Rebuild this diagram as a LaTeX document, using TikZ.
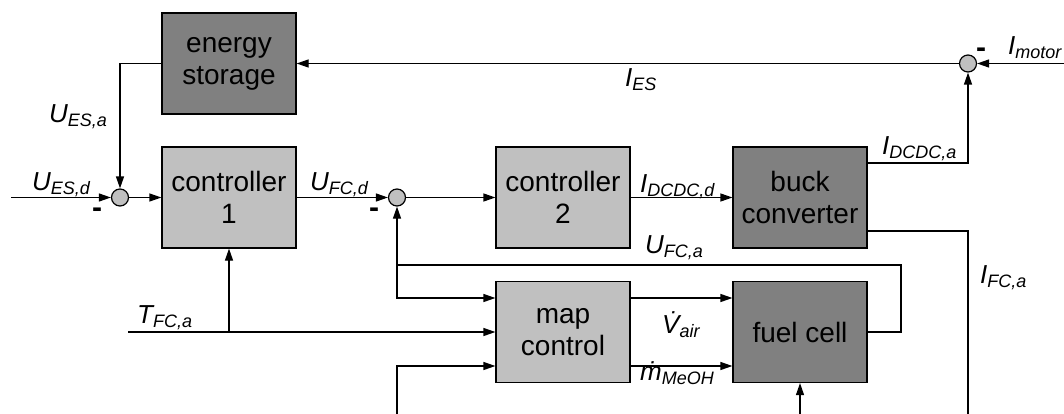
\documentclass[tikz,border=0pt]{standalone}
\usepackage{fontspec}
\setmainfont{Liberation Sans}
\usetikzlibrary{arrows.meta}
\definecolor{darkbox}{RGB}{128,128,128}
\definecolor{lightbox}{RGB}{192,192,192}
\newcommand{\sig}[2]{{\fontsize{26}{26}\selectfont\itshape #1\raisebox{-4pt}{\fontsize{18}{18}\selectfont #2}}}
\begin{document}
\begin{tikzpicture}[x=1pt,y=-1pt,
  box/.style={draw=black, line width=1.2pt, minimum width=134pt, minimum height=101pt, inner sep=0pt, align=center, font=\fontsize{28}{32}\selectfont},
  plant/.style={box, fill=darkbox},
  ctrl/.style={box, fill=lightbox},
  sumj/.style={circle, draw=black, line width=1.2pt, fill=lightbox, minimum size=17pt, inner sep=0pt},
  wire/.style={line width=1.2pt},
  arr/.style={wire, -{Triangle[length=12pt,width=8pt]}},
  lab/.style={anchor=base west, inner sep=0pt},
  minus/.style={inner sep=0pt, font=\fontsize{30}{30}\selectfont\bfseries}
]
\useasboundingbox (0,0) rectangle (1064,414);
% blocks
\node[plant] (es) at (229,63.5) {energy\\storage};
\node[ctrl] (c1) at (229,197.5) {controller\\1};
\node[ctrl] (c2) at (563,197.5) {controller\\2};
\node[plant] (buck) at (800,197.5) {buck\\converter};
\node[ctrl] (map) at (563,332) {map\\control};
\node[plant] (fc) at (800,332) {fuel cell};
% junctions
\node[sumj] (j1) at (120,197.5) {};
\node[sumj] (j2) at (397,197.5) {};
\node[sumj] (j3) at (968,63.5) {};
% free ends
\coordinate (in) at (11,197.5);
\coordinate (motin) at (1064,63.5);
\coordinate (ifcend) at (968,414);
\coordinate (fcr) at (901,332);
\coordinate (fb1) at (901,265);
\coordinate (fb2) at (397,265);
\coordinate (tin) at (128,332);
\coordinate (tbr) at (229,332);
\coordinate (bin) at (397,414);
\coordinate (fcin) at (800,414);
% connectors
\draw[arr] (in) -- (j1);
\draw[arr] (es) -| (j1);
\draw[arr] (j1) -- (c1);
\draw[arr] (c1) -- (j2);
\draw[arr] (j2) -- (c2);
\draw[arr] (c2) -- (buck);
\draw[arr] ([yshift=34.5pt]buck.east) -| (j3);
\draw[wire] ([yshift=-33.5pt]buck.east) -| (ifcend);
\draw[arr] (motin) -- (j3);
\draw[arr] (j3) -- (es);
\draw[wire] (fc.east) -- (fcr) -- (fb1) -- (fb2);
\draw[arr] (fb2) -- (j2);
\draw[arr] (fb2) |- ([yshift=34pt]map.west);
\draw[arr] (tin) -- (map.west);
\draw[arr] (tbr) -- (c1.south);
\draw[arr] (bin) |- ([yshift=-34pt]map.west);
\draw[arr] ([yshift=34pt]map.east) -- ([yshift=34pt]fc.west);
\draw[arr] ([yshift=-34pt]map.east) -- ([yshift=-34pt]fc.west);
\draw[arr] (fcin) -- (fc.south);
% labels
\node[lab] (lesa) at (49,123) {\sig{U}{ES,a}};
\node[lab] (lesd) at (32,190) {\sig{U}{ES,d}};
\node[lab] (lfcd) at (310,190) {\sig{U}{FC,d}};
\node[lab] (lidd) at (640,192) {\sig{I}{DCDC,d}};
\node[lab] (lfca) at (645,253) {\sig{U}{FC,a}};
\node[lab] (lies) at (625,87) {\sig{I}{ES}};
\node[lab] (lmot) at (1008,55) {\sig{I}{motor}};
\node[lab] (lida) at (882,155) {\sig{I}{DCDC,a}};
\node[lab] (lifc) at (980,283) {\sig{I}{FC,a}};
\node[lab] (ltfc) at (137,323) {\sig{T}{FC,a}};
\node[lab] (lvair) at (662,333) {\sig{\.{V}}{air}};
\node[lab] (lmeoh) at (640,380) {\sig{\.{m}}{MeOH}};
% minus signs
\node[minus] (m1) at (97,213) {-};
\node[minus] (m2) at (374,213) {-};
\node[minus] (m3) at (981,53) {-};
\end{tikzpicture}
\end{document}
